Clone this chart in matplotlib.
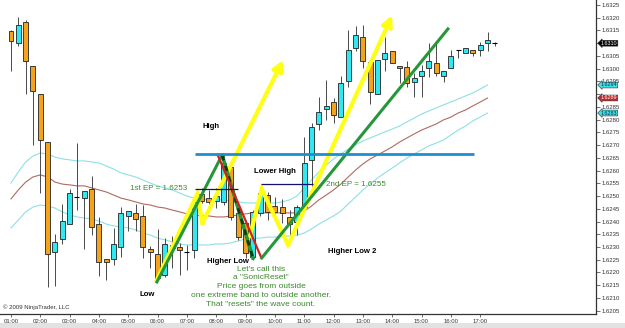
import matplotlib
matplotlib.use("Agg")
import matplotlib.pyplot as plt
from matplotlib.patches import Rectangle
import matplotlib.transforms as mtransforms

# ---------------- data (15-minute bars, 01:00 .. 17:30) ----------------
opens = [1.63149, 1.63101, 1.63183, 1.63011, 1.62901, 1.62712, 1.62281, 1.62332, 1.62390, 1.62496,
         1.62492, 1.62528, 1.62390, 1.62253, 1.62253, 1.62300, 1.62422, 1.62434, 1.62422, 1.62292,
         1.62273, 1.62190, 1.62308, 1.62300, 1.62281, 1.62288, 1.62508, 1.62492, 1.62481, 1.62477,
         1.62614, 1.62434, 1.62394, 1.62261, 1.62434, 1.62504, 1.62461, 1.62457, 1.62418, 1.62398,
         1.62457, 1.62642, 1.62783, 1.62842, 1.62869, 1.62810, 1.62952, 1.63081, 1.63124, 1.63026,
         1.62901, 1.63038, 1.63069, 1.63011, 1.63007, 1.62948, 1.62971, 1.63003, 1.63022, 1.62971,
         1.63003, 1.63073, 1.63062, 1.63073, 1.63073, 1.63101, 1.63102]
highs = [1.63152, 1.63203, 1.63191, 1.63011, 1.62901, 1.62712, 1.62351, 1.62469, 1.62528, 1.62708,
         1.62520, 1.62579, 1.62418, 1.62253, 1.62375, 1.62457, 1.62441, 1.62469, 1.62465, 1.62304,
         1.62371, 1.62336, 1.62343, 1.62316, 1.62308, 1.62485, 1.62532, 1.62524, 1.62532, 1.62661,
         1.62642, 1.62453, 1.62406, 1.62445, 1.62532, 1.62516, 1.62496, 1.62489, 1.62445, 1.62465,
         1.62732, 1.62787, 1.62889, 1.62956, 1.62885, 1.62971, 1.63152, 1.63168, 1.63172, 1.63026,
         1.63034, 1.63124, 1.63069, 1.63011, 1.63030, 1.62983, 1.63014, 1.63101, 1.63101, 1.62991,
         1.63073, 1.63073, 1.63081, 1.63073, 1.63105, 1.63144, 1.63104]
lows = [1.62991, 1.63089, 1.62901, 1.62701, 1.62512, 1.62143, 1.62147, 1.62312, 1.62390, 1.62445,
        1.62292, 1.62347, 1.62186, 1.62171, 1.62230, 1.62261, 1.62363, 1.62363, 1.62257, 1.62218,
        1.62171, 1.62182, 1.62218, 1.62190, 1.62210, 1.62257, 1.62473, 1.62438, 1.62453, 1.62465,
        1.62406, 1.62328, 1.62257, 1.62249, 1.62422, 1.62406, 1.62406, 1.62394, 1.62336, 1.62347,
        1.62449, 1.62512, 1.62759, 1.62799, 1.62787, 1.62810, 1.62928, 1.63069, 1.63003, 1.62861,
        1.62901, 1.62991, 1.63022, 1.62944, 1.62928, 1.62889, 1.62889, 1.62967, 1.62971, 1.62948,
        1.63003, 1.63042, 1.63062, 1.63050, 1.63050, 1.63069, 1.63090]
closes = [1.63110, 1.63172, 1.63030, 1.62912, 1.62720, 1.62273, 1.62320, 1.62402, 1.62512, 1.62496,
          1.62520, 1.62379, 1.62241, 1.62241, 1.62312, 1.62434, 1.62441, 1.62410, 1.62300, 1.62281,
          1.62179, 1.62312, 1.62296, 1.62288, 1.62281, 1.62477, 1.62481, 1.62477, 1.62500, 1.62630,
          1.62418, 1.62339, 1.62277, 1.62438, 1.62512, 1.62438, 1.62438, 1.62434, 1.62390, 1.62457,
          1.62630, 1.62771, 1.62830, 1.62854, 1.62818, 1.62944, 1.63073, 1.63132, 1.63030, 1.62909,
          1.63034, 1.63062, 1.63022, 1.63003, 1.62944, 1.62964, 1.62991, 1.63030, 1.62983, 1.62991,
          1.63050, 1.63073, 1.63081, 1.63062, 1.63093, 1.63113, 1.63102]

band_upper = [1.62551, 1.62595, 1.62634, 1.62657, 1.62669, 1.62665, 1.62653, 1.62646, 1.62642, 1.62638,
              1.62638, 1.62634, 1.62630, 1.62618, 1.62606, 1.62591, 1.62583, 1.62575, 1.62563, 1.62551,
              1.62540, 1.62532, 1.62524, 1.62512, 1.62500, 1.62492, 1.62489, 1.62485, 1.62485, 1.62485,
              1.62481, 1.62477, 1.62473, 1.62473, 1.62473, 1.62473, 1.62473, 1.62477, 1.62485, 1.62500,
              1.62532, 1.62563, 1.62595, 1.62622, 1.62646, 1.62665, 1.62685, 1.62701, 1.62716, 1.62728,
              1.62740, 1.62752, 1.62763, 1.62775, 1.62791, 1.62806, 1.62822, 1.62834, 1.62846, 1.62858,
              1.62869, 1.62881, 1.62893, 1.62905, 1.62920, 1.62936]
band_mid = [1.62489, 1.62524, 1.62555, 1.62575, 1.62583, 1.62575, 1.62555, 1.62547, 1.62544, 1.62540,
            1.62540, 1.62532, 1.62524, 1.62516, 1.62504, 1.62492, 1.62485, 1.62477, 1.62469, 1.62465,
            1.62457, 1.62453, 1.62445, 1.62438, 1.62430, 1.62426, 1.62422, 1.62422, 1.62418, 1.62418,
            1.62422, 1.62426, 1.62430, 1.62434, 1.62434, 1.62434, 1.62434, 1.62434, 1.62434, 1.62434,
            1.62441, 1.62461, 1.62485, 1.62504, 1.62524, 1.62547, 1.62575, 1.62602, 1.62626, 1.62646,
            1.62661, 1.62677, 1.62693, 1.62712, 1.62728, 1.62744, 1.62759, 1.62771, 1.62783, 1.62799,
            1.62810, 1.62826, 1.62838, 1.62854, 1.62869, 1.62885]
band_lower = [1.62375, 1.62406, 1.62438, 1.62457, 1.62465, 1.62461, 1.62453, 1.62438, 1.62426, 1.62418,
              1.62414, 1.62410, 1.62402, 1.62390, 1.62383, 1.62379, 1.62375, 1.62367, 1.62355, 1.62347,
              1.62335, 1.62328, 1.62320, 1.62312, 1.62308, 1.62308, 1.62308, 1.62308, 1.62312, 1.62312,
              1.62316, 1.62324, 1.62332, 1.62335, 1.62335, 1.62339, 1.62339, 1.62343, 1.62343, 1.62347,
              1.62355, 1.62371, 1.62390, 1.62406, 1.62422, 1.62441, 1.62469, 1.62496, 1.62524, 1.62547,
              1.62571, 1.62591, 1.62610, 1.62630, 1.62649, 1.62665, 1.62681, 1.62697, 1.62708, 1.62720,
              1.62740, 1.62759, 1.62775, 1.62795, 1.62810, 1.62826]

hour_labels = ["01:00", "02:00", "03:00", "04:00", "05:00", "06:00", "07:00", "08:00", "09:00",
               "10:00", "11:00", "12:00", "13:00", "14:00", "15:00", "16:00", "17:00"]
bars_per_hour = 4
price_ticks = [1.6205, 1.6210, 1.6215, 1.6220, 1.6225, 1.6230, 1.6235, 1.6240, 1.6245, 1.6250,
               1.6255, 1.6260, 1.6265, 1.6270, 1.6275, 1.6280, 1.6285, 1.6290, 1.6295, 1.6300,
               1.6305, 1.6310, 1.6315, 1.6320, 1.6325]
hidden_tick_labels = [1.6290, 1.6310]  # covered by the price flags in the original

# drawn annotations (bar index, price)
yellow1_x = [19.9, 25.4, 26.1, 37.1]
yellow1_p = [1.62171, 1.62508, 1.62394, 1.63034]
yellow2_x = [32.6, 34.2, 37.8, 52.0]
yellow2_p = [1.62343, 1.62528, 1.62308, 1.63210]
green1_x = [19.9, 28.8]
green1_p = [1.62163, 1.62661]
green_dash_x = [28.8, 33.0]
green_dash_p = [1.62661, 1.62257]
red_x = [28.2, 34.1]
red_p = [1.62661, 1.62261]
green2_x = [34.2, 59.6]
green2_p = [1.62257, 1.63156]
high_line_p = 1.62665
high_line_x = [25.1, 63.2]
ep1_p = 1.62528
ep1_x = [25.1, 31.0]
ep2_p = 1.62547
ep2_x = [34.1, 41.2]

# ---------------- figure ----------------
fig = plt.figure(figsize=(6.25, 3.28), dpi=100)
fig.patch.set_facecolor("white")
ax = fig.add_axes([0, 14 / 328, 596 / 625, 314 / 328])
ax.set_xlim(-1.5, 79.8)
ax.set_ylim(1.620371, 1.632696)

n = len(opens)
xs = list(range(n))
nb = len(band_mid)
ax.plot(xs[:nb], band_upper, color="#8fdfe6", lw=0.8, zorder=1)
ax.plot(xs[:nb], band_mid, color="#b06a60", lw=0.8, zorder=1)
ax.plot(xs[:nb], band_lower, color="#8fdfe6", lw=0.8, zorder=1)

w = 0.68
for i in range(n):
    o, h, l, c = opens[i], highs[i], lows[i], closes[i]
    ax.vlines(i, l, h, color="#4a4a4a", lw=0.7, zorder=2)
    if abs(c - o) < 1e-6:
        ax.hlines(o, i - w / 2, i + w / 2, color="black", lw=0.8, zorder=3)
    else:
        col = "#2ee8f2" if c > o else "#f7a21b"
        ax.bar(i, abs(c - o), bottom=min(o, c), width=w, color=col,
               edgecolor="#222222", linewidth=0.6, zorder=3)

# annotation lines
ylw = "#ffff14"
grn = "#25973a"
ax.plot(yellow1_x[:-1], yellow1_p[:-1], color=ylw, lw=3.0, solid_joinstyle="miter", zorder=5)
ax.annotate("", xy=(yellow1_x[-1], yellow1_p[-1]), xytext=(yellow1_x[-2], yellow1_p[-2]),
            arrowprops=dict(arrowstyle="-|>,head_width=0.3,head_length=0.6", color=ylw, lw=3.0,
                            shrinkA=0, shrinkB=0), zorder=5)
ax.plot(yellow2_x[:-1], yellow2_p[:-1], color=ylw, lw=3.0, solid_joinstyle="miter", zorder=5)
ax.annotate("", xy=(yellow2_x[-1], yellow2_p[-1]), xytext=(yellow2_x[-2], yellow2_p[-2]),
            arrowprops=dict(arrowstyle="-|>,head_width=0.3,head_length=0.6", color=ylw, lw=3.0,
                            shrinkA=0, shrinkB=0), zorder=5)
ax.plot(green1_x, green1_p, color=grn, lw=2.2, zorder=6)
ax.plot(green_dash_x, green_dash_p, color=grn, lw=2.6, zorder=6)
ax.plot(green_dash_x, green_dash_p, color="#0b3d12", lw=2.0, ls=(0, (2, 2)), zorder=6)
ax.plot(red_x, red_p, color="#d42020", lw=1.6, zorder=6)
ax.plot(green2_x, green2_p, color=grn, lw=2.2, zorder=6)
ax.hlines(high_line_p, high_line_x[0], high_line_x[1], color="#1e8fcf", lw=2.0, zorder=6)
ax.hlines(ep1_p, ep1_x[0], ep1_x[1], color="#10106e", lw=0.9, zorder=6)
ax.hlines(ep2_p, ep2_x[0], ep2_x[1], color="#10106e", lw=0.9, zorder=6)

# texts
fam = ["Liberation Sans", "DejaVu Sans"]
bold_kw = dict(fontsize=5.6, fontweight="bold", color="black", family=fam, ha="center", va="center", zorder=8)
ax.text(27.3, 1.62775, "High", **bold_kw)
ax.text(36.0, 1.62598, "Lower High", **bold_kw)
ax.text(29.6, 1.62244, "Higher Low", **bold_kw)
ax.text(46.5, 1.62284, "Higher Low 2", **bold_kw)
ax.text(18.6, 1.62112, "Low", **bold_kw)

gtxt = "#3b8a2c"
ax.text(16.2, 1.62528, "1st EP = 1.6253", fontsize=5.8, color=gtxt, family=fam, ha="left", va="center", zorder=8)
ax.text(43.0, 1.62547, "2nd EP = 1.6255", fontsize=5.8, color=gtxt, family=fam, ha="left", va="center", zorder=8)

note_lines = ["Let's call this", "a \"SonicReset\"", "Price goes from outside",
              "one extreme band to outside another.", "That \"resets\" the wave count."]
note_prices = [1.62212, 1.62179, 1.62145, 1.62110, 1.62076]
for txt, p in zip(note_lines, note_prices):
    ax.text(34.1, p, txt, fontsize=6.0, color=gtxt, family=fam, ha="center", va="center", zorder=8)

ax.text(3 / 596, 4 / 314, "\u00a9 2009 NinjaTrader, LLC", transform=ax.transAxes,
        fontsize=4.3, color="#333333", family=fam, ha="left", va="bottom")

# right-side price flags
trans = mtransforms.blended_transform_factory(ax.transAxes, ax.transData)
flags = [(1.63100, "1.6310", "black", "white"),
         (band_upper[-1], "1.6294", "#40dfe8", "#103040"),
         (band_mid[-1], "1.6289", "#c0282a", "white"),
         (band_lower[-1], "1.6283", "#40dfe8", "#103040")]
for p, t, bg, fg in flags:
    ax.text(1.008, p, t, transform=trans, fontsize=3.9, color=fg, family=fam, ha="left", va="center",
            bbox=dict(boxstyle="larrow,pad=0.08", fc=bg, ec="#333333", lw=0.4), zorder=9, clip_on=False)

# axes styling
ax.spines["top"].set_visible(False)
ax.spines["left"].set_visible(False)
for s in ("bottom", "right"):
    ax.spines[s].set_color("#333333")
    ax.spines[s].set_linewidth(0.9)
ax.yaxis.tick_right()
ax.set_yticks(price_ticks)
ax.set_yticklabels(["" if any(abs(v - h) < 1e-7 for h in hidden_tick_labels) else f"{v:.4f}"
                    for v in price_ticks])
ax.set_xticks([k * bars_per_hour for k in range(len(hour_labels))])
ax.set_xticklabels(hour_labels)
ax.tick_params(axis="y", length=3, width=0.5, labelsize=4.3, pad=1, colors="#333333")
ax.tick_params(axis="x", length=2.5, width=0.5, labelsize=4.3, pad=1, colors="#333333")
for lab in ax.get_xticklabels() + ax.get_yticklabels():
    lab.set_family(fam)

fig.patches.append(Rectangle((0, 0), 1, 5 / 328, transform=fig.transFigure,
                             facecolor="#e2e2e2", edgecolor="none", zorder=0))

fig.savefig("out.png", dpi=100)
